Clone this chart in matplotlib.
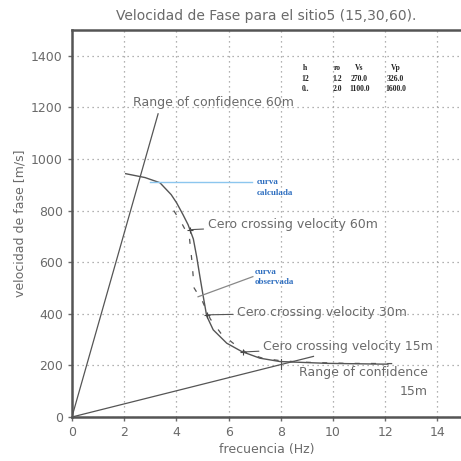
import matplotlib
matplotlib.use("Agg")
import matplotlib.pyplot as plt

# calculated dispersion curve (solid)
calc_f = [2.06, 2.8, 3.37, 3.8, 4.01, 4.25, 4.45, 4.65, 4.78, 4.90, 5.03, 5.16, 5.41, 5.93, 6.50, 7.20, 7.97, 9.76, 11.9, 12.1]
calc_v = [943, 928, 908, 862, 830, 785, 745, 690, 620, 545, 467, 392, 338, 286, 254, 228, 215, 208, 205, 205]

# observed dispersion curve (dashed)
obs_f = [3.9, 4.2, 4.5, 4.6, 4.68, 5.0, 5.3, 5.7, 6.15, 6.7, 7.3, 8.0, 9.0, 10.5, 12.4]
obs_v = [800, 752, 695, 600, 500, 448, 380, 325, 288, 248, 228, 218, 212, 208, 207]

# range of confidence lines (from origin)
range60_f = [0, 3.3]
range60_v = [0, 1175]
range15_f = [0, 9.25]
range15_v = [0, 235]

# zero crossing points
cross_labels = ["Cero crossing velocity 60m", "Cero crossing velocity 30m", "Cero crossing velocity 15m"]
cross_f = [4.52, 5.17, 6.55]
cross_v = [726, 396, 252]
cross_text_f = [5.2, 6.32, 7.32]
cross_text_v = [745, 404, 272]

# model table
table_cols = ["h", "ro", "Vs", "Vp"]
table_rows = [["12", "1.2", "270.0", "326.0"],
              ["0..", "2.0", "1100.0", "1600.0"]]
table_x = [8.93, 10.15, 11.0, 12.4]
table_y = [1351, 1311, 1272]

gray = "#6a6a6a"

fig = plt.figure(figsize=(4.61, 4.61), dpi=100)
ax = fig.add_axes([0.156, 0.0954, 0.844, 0.8396])

ax.plot(calc_f, calc_v, color="#555555", lw=1.0)
ax.plot(obs_f, obs_v, color="#555555", lw=0.9, linestyle=(0, (4, 9)))
ax.plot(range60_f, range60_v, color="#555555", lw=0.9)
ax.plot(range15_f, range15_v, color="#555555", lw=0.9)
ax.plot([8.0, 8.0], [185, 225], color="#555555", lw=0.8)

for lab, fx, vy, tx, ty in zip(cross_labels, cross_f, cross_v, cross_text_f, cross_text_v):
    ax.plot(fx, vy, marker="+", color="#444444", ms=4, mew=0.8)
    ax.annotate(lab, xy=(fx, vy), xytext=(tx, ty), color=gray, fontsize=9,
                va="center", ha="left",
                arrowprops=dict(arrowstyle="-", color="#555555", lw=0.8, shrinkA=1, shrinkB=0))

ax.text(2.34, 1219, "Range of confidence 60m", color=gray, fontsize=9, va="center", ha="left")
ax.text(13.64, 171, "Range of confidence", color=gray, fontsize=9, va="center", ha="right")
ax.text(13.64, 97, "15m", color=gray, fontsize=9, va="center", ha="right")

# blue labels for the curves
blue = "#2f6fc0"
ax.plot([3.0, 6.9], [909, 909], color="#8cc6ee", lw=1.0)
ax.plot([4.83, 6.93], [466, 544], color="#888888", lw=0.9)
for tx, ty, s in [(7.09, 909, "curva"), (7.09, 870, "calculada"),
                  (7.01, 563, "curva"), (7.01, 524, "observada")]:
    ax.text(tx, ty, s, color=blue, fontsize=6.5, family="Liberation Serif",
            weight="bold", va="center")

for j, c in enumerate(table_cols):
    ax.text(table_x[j], table_y[0], c, fontsize=5.5, family="Liberation Serif",
            weight="bold", ha="center", va="center", color="#222222")
for i, row in enumerate(table_rows):
    for j, c in enumerate(row):
        ax.text(table_x[j], table_y[i + 1], c, fontsize=5.5, family="Liberation Serif",
                weight="bold", ha="center", va="center", color="#222222")

ax.set_xlim(0, 14.9)
ax.set_ylim(0, 1500)
ax.set_xticks(range(0, 15, 2))
ax.set_yticks(range(0, 1401, 200))
ax.grid(True, linestyle=(0, (1, 3)), color="#999999", lw=0.9)
ax.tick_params(colors=gray, labelsize=9, length=3, width=1)
for s in ax.spines.values():
    s.set_color("#555555")
    s.set_linewidth(1.8)
ax.spines["right"].set_visible(False)

ax.set_xlabel("frecuencia (Hz)", color=gray, fontsize=9, labelpad=3)
ax.set_ylabel("velocidad de fase [m/s]", color=gray, fontsize=9, labelpad=3)
ax.set_title("Velocidad de Fase para el sitio5 (15,30,60).", color=gray, fontsize=10, pad=7)

fig.savefig("out.png", dpi=100)
